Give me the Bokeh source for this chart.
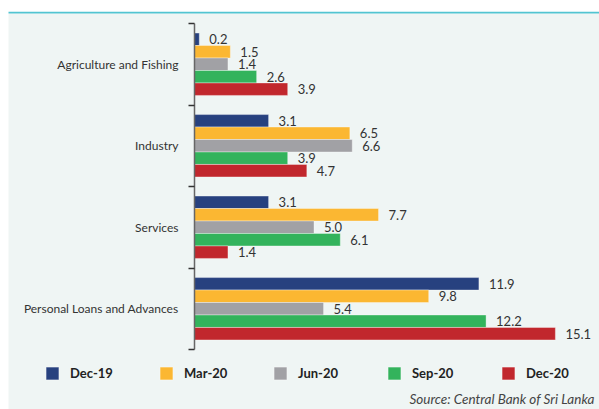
from bokeh.plotting import figure
from bokeh.models import (ColumnDataSource, Range1d, FixedTicker, Legend, LegendItem,
                          Label, BoxAnnotation)
from bokeh.transform import dodge
from bokeh.embed import file_html
from bokeh.resources import INLINE
from bokeh.core.properties import value

categories = ["Agriculture and Fishing", "Industry", "Services", "Personal Loans and Advances"]
series = ["Dec-19", "Mar-20", "Jun-20", "Sep-20", "Dec-20"]
dec19 = [0.2, 3.1, 3.1, 11.9]
mar20 = [1.5, 6.5, 7.7, 9.8]
jun20 = [1.4, 6.6, 5.0, 5.4]
sep20 = [2.6, 3.9, 6.1, 12.2]
dec20 = [3.9, 4.7, 1.4, 15.1]
colors = ["#27417f", "#fbb732", "#a1a1a5", "#33b35c", "#c1272d"]
values = [dec19, mar20, jun20, sep20, dec20]
source_text = "Source: Central Bank of Sri Lanka"

BG = "#eff5f4"
FONT = "Lato"
W, H = 599, 409
X0 = 194      # pixel of value 0
Y0 = 23       # pixel of the top group boundary
UNIT = 81.5   # pixels per category group
PX = 23.9     # pixels per value unit

pos = list(range(len(categories)))  # 0 = top category (range is flipped)

p = figure(width=W, height=H, output_backend="svg", toolbar_location=None,
           x_range=Range1d(-X0 / PX, (W - X0) / PX),
           y_range=Range1d(-0.5 + (H - Y0) / UNIT, -0.5 - Y0 / UNIT),
           x_axis_location=None, min_border_left=0, min_border_right=0,
           min_border_top=0, min_border_bottom=0)
p.background_fill_color = "white"
p.border_fill_color = "white"
p.outline_line_color = None
p.grid.visible = False

# panel background and cyan top rule
p.add_layout(BoxAnnotation(left=8, right=W, bottom=0, top=H - 13,
                           left_units="screen", right_units="screen",
                           bottom_units="screen", top_units="screen",
                           fill_color=BG, fill_alpha=1, line_color=None, level="underlay"))
p.add_layout(BoxAnnotation(left=8, right=W, bottom=H - 13, top=H - 11.3,
                           left_units="screen", right_units="screen",
                           bottom_units="screen", top_units="screen",
                           fill_color="#52c4d1", fill_alpha=1, line_color=None, level="underlay"))

bar_h = 0.153
offsets = [-2 * bar_h, -bar_h, 0, bar_h, 2 * bar_h]
renderers = []
for s, vals, col, off in zip(series, values, colors, offsets):
    src = ColumnDataSource(dict(y=pos, v=vals, lab=["%.1f" % v for v in vals]))
    r = p.hbar(y=dodge("y", off), right="v", left=0, height=bar_h, source=src,
               fill_color=col, line_color="white", line_width=0.6, line_alpha=0.6)
    renderers.append(r)
    p.text(x="v", y=dodge("y", off), text="lab", source=src, x_offset=10,
           text_baseline="middle", text_align="left", text_font=value(FONT),
           text_font_size="13px", text_color="#333333")

ax = p.yaxis[0]
ax.fixed_location = 0
ax.bounds = (pos[0] - 0.5, pos[-1] + 0.5)
ax.ticker = FixedTicker(ticks=pos, minor_ticks=[i - 0.5 for i in pos] + [pos[-1] + 0.5])
ax.major_label_overrides = {i: c for i, c in zip(pos, categories)}
ax.major_tick_line_color = None
ax.major_tick_out = 0
ax.major_tick_in = 0
ax.minor_tick_line_color = "#333333"
ax.minor_tick_line_width = 1.5
ax.minor_tick_out = 6
ax.minor_tick_in = 0
ax.axis_line_color = "#666666"
ax.axis_line_width = 1.5
ax.major_label_standoff = 10
ax.major_label_text_font = FONT
ax.major_label_text_font_size = "12px"
ax.major_label_text_color = "#333333"

items = [LegendItem(label=s, renderers=[r]) for s, r in zip(series, renderers)]
legend = Legend(items=items, orientation="horizontal", location=(44, H - 381),
                padding=0, margin=0, spacing=0, glyph_width=16, glyph_height=16,
                label_standoff=10, label_width=88, label_height=16,
                label_text_font=FONT, label_text_font_size="13px",
                label_text_font_style="bold", label_text_color="#222222",
                background_fill_alpha=0, border_line_color=None)
p.add_layout(legend, "center")

p.add_layout(Label(x=W - 5, y=3, x_units="screen", y_units="screen",
                   text=source_text, text_align="right",
                   text_baseline="bottom", text_font=FONT, text_font_size="13.5px",
                   text_font_style="italic", text_color="#444444"))

open("out.html", "w").write(file_html(p, INLINE))
